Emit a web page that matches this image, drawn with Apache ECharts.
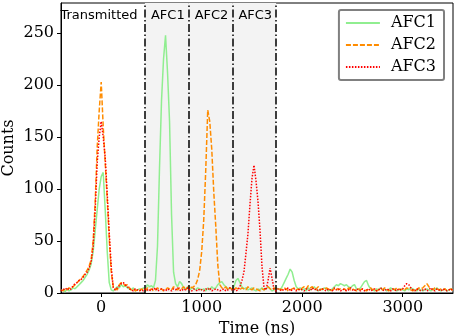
<!DOCTYPE html>
<html>
<head>
<meta charset="utf-8">
<script src="https://cdn.jsdelivr.net/npm/echarts@6/dist/echarts.min.js"></script>
<style>
html, body { margin: 0; padding: 0; background: #fff; }
#chart { width: 463px; height: 336px; }
</style>
</head>
<body>
<div id="chart"></div>
<script>
// time grid: -400 ns .. 3500 ns, 20 ns bins
const timeStart = -400;
const timeStep = 20;

// counts per bin, one row = 200 ns
const afc1 = [
  2, 3, 1, 4, 2, 3, 5, 4, 6, 8,
  10, 12, 15, 18, 22, 28, 40, 60, 80, 100,
  112, 116, 80, 40, 10, 3, 2, 4, 6, 5,
  8, 6, 7, 5, 4, 3, 5, 2, 3, 4,
  3, 5, 4, 8, 6, 7, 5, 12, 45, 120,
  185, 225, 248, 212, 165, 75, 20, 9, 6, 11,
  9, 5, 4, 6, 3, 5, 4, 3, 5, 4,
  3, 4, 2, 5, 3, 6, 4, 5, 8, 10,
  11, 8, 6, 4, 5, 3, 6, 12, 14, 10,
  6, 4, 5, 3, 4, 5, 3, 2, 4, 3,
  5, 3, 4, 6, 4, 2, 3, 5, 4, 3,
  6, 10, 14, 18, 23, 20, 12, 6, 4, 5,
  3, 4, 2, 5, 3, 4, 6, 3, 2, 4,
  3, 5, 4, 2, 3, 4, 6, 8, 7, 9,
  8, 7, 8, 6, 5, 7, 8, 4, 3, 5,
  8, 11, 12, 7, 4, 3, 2, 4, 3, 5,
  3, 4, 2, 3, 5, 3, 4, 2, 3, 4,
  3, 2, 4, 3, 5, 4, 3, 2, 4, 3,
  2, 3, 4, 3, 2, 4, 3, 5, 3, 2,
  3, 4, 2, 3, 4, 3
];
const afc2 = [
  3, 2, 4, 3, 5, 4, 6, 8, 10, 12,
  14, 16, 19, 22, 26, 32, 50, 87, 140, 175,
  203, 160, 125, 90, 52, 20, 6, 4, 3, 8,
  10, 9, 7, 8, 5, 3, 4, 2, 3, 2,
  4, 3, 2, 5, 3, 4, 2, 3, 5, 3,
  4, 2, 3, 5, 4, 3, 6, 4, 3, 5,
  4, 6, 3, 5, 7, 5, 6, 8, 13, 22,
  40, 70, 118, 176, 165, 138, 97, 64, 27, 8,
  5, 4, 6, 3, 5, 4, 3, 5, 4, 3,
  5, 4, 3, 6, 4, 3, 5, 4, 3, 2,
  4, 3, 5, 6, 4, 3, 5, 4, 3, 4,
  3, 5, 4, 2, 3, 4, 5, 3, 4, 2,
  5, 6, 4, 7, 5, 6, 3, 4, 6, 3,
  4, 3, 5, 4, 2, 3, 4, 5, 3, 4,
  3, 4, 2, 5, 3, 4, 3, 2, 4, 3,
  4, 3, 2, 4, 5, 3, 4, 2, 3, 4,
  3, 5, 4, 2, 3, 4, 3, 5, 4, 3,
  4, 3, 5, 4, 3, 2, 4, 3, 5, 4,
  5, 7, 9, 6, 4, 3, 5, 4, 3, 4,
  3, 4, 2, 3, 4, 2
];
const afc3 = [
  2, 4, 3, 5, 3, 4, 7, 9, 10, 12,
  13, 15, 18, 20, 24, 30, 45, 80, 125, 150,
  165, 150, 130, 95, 58, 25, 5, 3, 5, 7,
  9, 10, 8, 6, 4, 3, 2, 4, 3, 2,
  3, 2, 4, 3, 2, 4, 3, 5, 2, 3,
  4, 3, 2, 4, 3, 2, 4, 3, 5, 3,
  2, 4, 3, 5, 3, 2, 4, 3, 2, 4,
  3, 2, 4, 3, 5, 2, 3, 4, 3, 2,
  3, 4, 2, 3, 5, 3, 4, 2, 3, 6,
  12, 20, 38, 57, 85, 110, 123, 108, 88, 60,
  25, 5, 3, 12, 24, 14, 3, 2, 4, 3,
  2, 4, 3, 5, 2, 3, 4, 2, 3, 4,
  3, 2, 4, 3, 2, 5, 3, 4, 2, 3,
  4, 3, 2, 4, 3, 2, 5, 3, 4, 2,
  3, 4, 2, 3, 5, 3, 2, 4, 3, 2,
  4, 2, 3, 4, 2, 3, 4, 2, 3, 5,
  3, 2, 4, 3, 2, 4, 3, 2, 4, 3,
  4, 7, 9, 8, 5, 3, 2, 4, 3, 2,
  3, 4, 2, 3, 5, 3, 2, 4, 3, 2,
  4, 3, 2, 3, 4, 2
];

const xTicks = [0, 1000, 2000, 3000];
const yTicks = [0, 50, 100, 150, 200, 250];
const gateEdges = [435, 870, 1305, 1740];
const regionNames = ['Transmitted', 'AFC1', 'AFC2', 'AFC3'];

const times = [];
for (let i = 0; i < afc1.length; i++) times.push(timeStart + i * timeStep);
const pairs = (vals) => vals.map((v, i) => [times[i], v]);

const serif = 'DejaVu Serif';

// region labels + gray shading for the AFC gates
const areaData = [];
const regionBounds = [-400].concat(gateEdges);
for (let k = 0; k < regionNames.length; k++) {
  areaData.push([
    {
      name: regionNames[k],
      xAxis: regionBounds[k],
      itemStyle: { color: k === 0 ? 'rgba(0,0,0,0)' : '#f3f3f3' },
      label: { offset: [k === 0 ? -4 : 1, 0] }
    },
    { xAxis: regionBounds[k + 1] }
  ]);
}

const option = {
  animation: false,
  grid: {
    left: 61, right: 10, top: 3, bottom: 43,
    outerBoundsMode: 'none',
    containLabel: false,
    show: true, borderColor: '#000', borderWidth: 1
  },
  legend: {
    orient: 'vertical',
    right: 19, top: 10,
    data: ['AFC1', 'AFC2', 'AFC3'],
    backgroundColor: '#fff',
    borderColor: '#808080',
    borderWidth: 2,
    borderRadius: 2,
    padding: [5, 8, 5, 6],
    itemWidth: 34,
    itemHeight: 14,
    itemGap: 6,
    itemStyle: { opacity: 0 },
    textStyle: { fontFamily: serif, fontSize: 16, color: '#000', padding: [0, 0, 0, 6] }
  },
  xAxis: {
    type: 'value',
    min: -400, max: 3500,
    name: 'Time (ns)',
    nameLocation: 'middle',
    nameGap: 28,
    nameMoveOverlap: false,
    nameTextStyle: { fontFamily: serif, fontSize: 16, color: '#000' },
    axisLine: { show: true, onZero: false, lineStyle: { color: '#000', width: 1 } },
    axisTick: { show: true, length: 4, customValues: xTicks, lineStyle: { color: '#000' } },
    axisLabel: {
      customValues: xTicks, margin: 7, fontFamily: serif, fontSize: 16, color: '#000',
      formatter: (v) => String(v)
    },
    splitLine: { show: false }
  },
  yAxis: {
    type: 'value',
    min: 0, max: 279,
    name: 'Counts',
    nameLocation: 'middle',
    nameGap: 44,
    nameMoveOverlap: false,
    nameTextStyle: { fontFamily: serif, fontSize: 16, color: '#000' },
    axisLine: { show: true, onZero: false, lineStyle: { color: '#000', width: 1 } },
    axisTick: { show: true, length: 4, customValues: yTicks, lineStyle: { color: '#000' } },
    axisLabel: {
      customValues: yTicks, margin: 7, fontFamily: serif, fontSize: 16, color: '#000',
      formatter: (v) => String(v)
    },
    splitLine: { show: false }
  },
  series: [
    {
      name: 'AFC1',
      type: 'line',
      data: pairs(afc1),
      symbol: 'none',
      z: 3,
      color: '#90ee90',
      lineStyle: { color: '#90ee90', width: 1.5 },
      markArea: {
        silent: true,
        label: {
          show: true, position: 'insideTop', distance: 6,
          fontFamily: 'DejaVu Sans', fontSize: 13, color: '#000'
        },
        data: areaData
      },
      markLine: {
        silent: true,
        symbol: 'none',
        label: { show: false },
        lineStyle: { color: '#000', width: 1.5, type: [8, 2.5, 1.5, 2.5] },
        data: gateEdges.map(x => ({ xAxis: x }))
      }
    },
    {
      name: 'AFC2',
      type: 'line',
      data: pairs(afc2),
      symbol: 'none',
      z: 4,
      color: '#ff8c00',
      lineStyle: { color: '#ff8c00', width: 1.5, type: [5, 2] }
    },
    {
      name: 'AFC3',
      type: 'line',
      data: pairs(afc3),
      symbol: 'none',
      z: 5,
      color: '#ff0000',
      lineStyle: { color: '#ff0000', width: 1.5, type: [1.5, 1.5] }
    }
  ]
};

const chart = echarts.init(document.getElementById('chart'));
chart.setOption(option);
</script>
</body>
</html>
